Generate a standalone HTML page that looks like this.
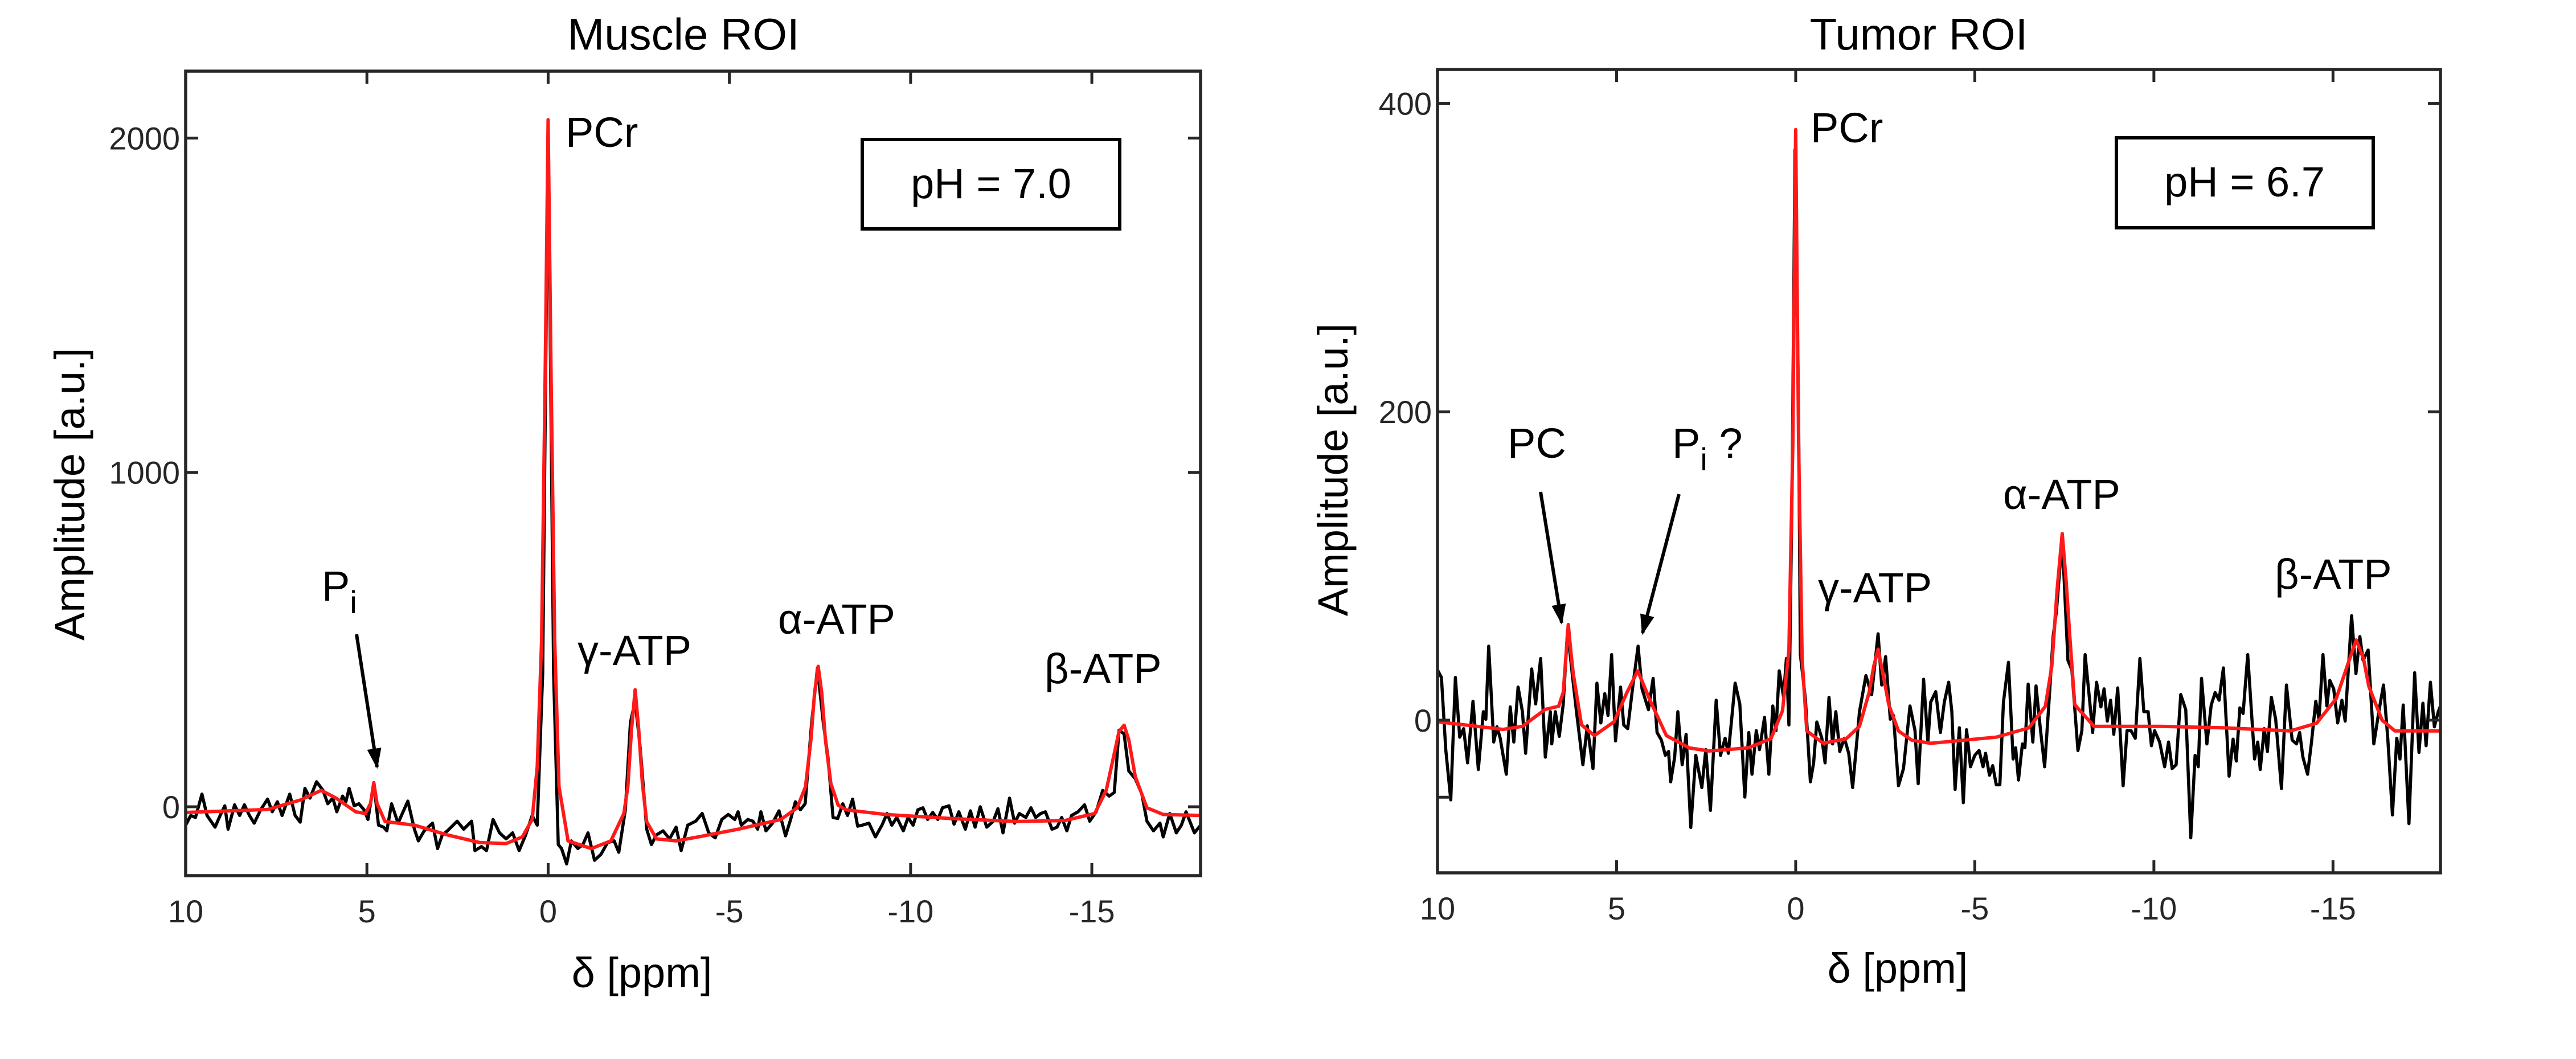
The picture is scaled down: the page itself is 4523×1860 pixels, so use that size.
<!DOCTYPE html>
<html><head><meta charset="utf-8"><style>
html,body{margin:0;padding:0;background:#fff;}
svg{display:block;}
text{font-family:"Liberation Sans",sans-serif;}
.tick{font-size:56px;fill:#262626;}
.lbl{font-size:74px;fill:#000;}
</style></head><body>
<svg id="chart" width="4523" height="1860" viewBox="0 0 4523 1860" xmlns="http://www.w3.org/2000/svg">
<g id="left"></g>
<g id="right"></g>
</svg>
<script>
// ---------- Muscle ROI data ----------
const muscleFitPpm = [10,7.74,6.84,6.26,5.85,5.31,5.04,4.9,4.81,4.72,4.5,3.69,2.78,1.88,1.16,0.71,0.44,0.3,0.18,0.08,0,-0.08,-0.18,-0.3,-0.55,-1.19,-1.73,-2.09,-2.2,-2.3,-2.4,-2.5,-2.6,-2.72,-2.99,-3.53,-4.14,-5.24,-6.42,-6.87,-7.1,-7.25,-7.35,-7.45,-7.55,-7.65,-7.8,-8.0,-8.22,-9.3,-11.11,-12.91,-14.26,-15.08,-15.4,-15.6,-15.75,-15.89,-16.02,-16.2,-16.52,-16.97,-18];
const muscleFitAmp = [-17,-8,20,49,26,-15,-20,10,72,10,-44,-55,-84,-107,-110,-90,-38,120,500,1300,2055,1300,500,60,-102,-125,-102,-20,60,230,350,230,70,-45,-96,-102,-90,-67,-38,-3,60,200,340,420,340,200,70,5,-9,-23,-35,-44,-41,-20,50,150,225,244,200,90,-3,-23,-26];
const muscleDataPpm = [10,9.86,9.73,9.55,9.41,9.19,9.05,8.92,8.83,8.65,8.51,8.38,8.24,8.11,7.93,7.74,7.61,7.47,7.34,7.13,6.98,6.84,6.71,6.57,6.39,6.21,6.08,5.94,5.83,5.67,5.58,5.49,5.35,5.22,5.08,4.97,4.81,4.68,4.54,4.45,4.32,4.14,3.87,3.69,3.58,3.42,3.19,3.05,2.92,2.78,2.51,2.33,2.11,2.02,1.84,1.7,1.52,1.34,1.16,0.98,0.8,0.62,0.44,0.3,0.15,0,-0.15,-0.28,-0.37,-0.51,-0.64,-0.82,-0.96,-1.1,-1.28,-1.46,-1.64,-1.82,-1.95,-2.13,-2.27,-2.4,-2.54,-2.72,-2.85,-2.99,-3.17,-3.35,-3.53,-3.67,-3.85,-4.07,-4.25,-4.43,-4.61,-4.79,-4.97,-5.15,-5.24,-5.33,-5.51,-5.65,-5.78,-5.87,-6.01,-6.19,-6.37,-6.55,-6.69,-6.82,-6.96,-7.09,-7.27,-7.43,-7.59,-7.72,-7.86,-7.99,-8.13,-8.26,-8.4,-8.54,-8.67,-8.85,-9.03,-9.21,-9.35,-9.48,-9.62,-9.8,-9.93,-10.07,-10.2,-10.34,-10.47,-10.61,-10.75,-10.88,-11.06,-11.2,-11.33,-11.51,-11.65,-11.78,-11.92,-12.1,-12.28,-12.41,-12.55,-12.73,-12.87,-13,-13.18,-13.32,-13.45,-13.59,-13.72,-13.9,-14.04,-14.17,-14.31,-14.44,-14.62,-14.8,-14.94,-15.12,-15.3,-15.48,-15.62,-15.75,-15.89,-16.02,-16.2,-16.38,-16.52,-16.7,-16.88,-16.97,-17.15,-17.33,-17.47,-17.6,-17.83,-18];
const muscleDataAmp = [-55,-26,-32,38,-26,-61,-26,3,-67,6,-26,6,-26,-49,-9,23,-15,15,-26,38,-26,-46,55,26,75,49,9,26,-15,32,15,55,3,9,-9,-38,70,-55,-61,-72,9,-49,17,-67,-102,-72,-49,-125,-84,-72,-43,-67,-43,-131,-119,-131,-38,-78,-96,-78,-131,-84,-26,-55,400,2030,400,-113,-125,-171,-102,-125,-113,-78,-160,-142,-107,-102,-136,-9,252,316,177,-67,-113,-84,-72,-96,-61,-131,-55,-43,-20,-78,-93,-38,-23,-38,-15,-55,-38,-43,-67,-15,-72,-49,-12,-87,-38,15,-9,9,252,415,252,148,-32,-35,9,-26,23,-58,-55,-49,-90,-55,-20,-55,-32,-72,-32,-55,-9,-3,-38,-17,-38,-3,3,-52,-15,-67,-12,-61,0,-61,-43,-6,-78,26,-49,-20,-32,-3,-32,-20,-15,-67,-61,-32,-72,-26,-15,6,-43,-15,49,32,43,229,218,107,84,38,-43,-72,-49,-90,-20,-78,-55,-15,-78,-55];
const muscleYTicks = [0,1000,2000];
const muscleYTickLabels = ["0","1000","2000"];
// ---------- Tumor ROI data ----------
const tumorFitPpm = [10,8.17,7.63,6.99,6.62,6.49,6.42,6.35,6.28,6.21,5.98,5.62,5.07,4.71,4.41,4.07,3.61,2.97,2.42,1.33,0.69,0.37,0.19,0.08,0,-0.08,-0.18,-0.31,-0.77,-1.41,-1.78,-2.05,-2.18,-2.3,-2.42,-2.6,-2.87,-3.24,-3.77,-5.6,-6.51,-6.97,-7.15,-7.3,-7.44,-7.55,-7.65,-7.79,-8.33,-10.16,-11.99,-13.81,-14.54,-15.09,-15.41,-15.65,-15.85,-16,-16.37,-16.73,-18];
const tumorFitAmp = [-1,-6,-4,7,9,18,40,62,45,30,-3,-10,-1,18,32,13,-10,-18,-20,-18,-12,6,45,180,383,180,40,-7,-15,-12,-4,18,35,46,32,10,-7,-13,-15,-11,-5,9,35,85,121,90,55,10,-4,-4,-5,-7,-2,14,36,52,40,22,0,-7,-7];
const tumorDataPpm = [10,9.89,9.77,9.63,9.5,9.38,9.27,9.16,9.01,8.86,8.72,8.65,8.57,8.43,8.34,8.25,8.08,7.97,7.87,7.75,7.63,7.54,7.37,7.26,7.12,6.99,6.85,6.81,6.71,6.6,6.49,6.37,6.24,6.12,5.94,5.82,5.66,5.55,5.44,5.33,5.24,5.14,5.03,4.89,4.8,4.69,4.54,4.4,4.29,4.11,3.98,3.87,3.75,3.64,3.55,3.49,3.38,3.29,3.17,3.06,2.93,2.79,2.62,2.51,2.38,2.22,2.1,1.97,1.88,1.69,1.56,1.42,1.31,1.22,1.1,1.01,0.87,0.75,0.64,0.55,0.46,0.34,0.26,0.19,0.1,0.02,-0.08,-0.13,-0.27,-0.41,-0.5,-0.59,-0.73,-0.82,-0.93,-1.03,-1.12,-1.23,-1.36,-1.48,-1.59,-1.78,-1.96,-2.12,-2.3,-2.4,-2.51,-2.64,-2.73,-2.87,-3.01,-3.19,-3.33,-3.42,-3.57,-3.69,-3.77,-3.91,-4.04,-4.15,-4.27,-4.36,-4.45,-4.57,-4.68,-4.77,-4.88,-5,-5.12,-5.23,-5.3,-5.41,-5.5,-5.6,-5.7,-5.8,-5.94,-6.07,-6.14,-6.22,-6.33,-6.4,-6.49,-6.62,-6.71,-6.83,-6.95,-7.06,-7.19,-7.28,-7.44,-7.6,-7.71,-7.88,-7.99,-8.08,-8.2,-8.29,-8.4,-8.52,-8.61,-8.7,-8.79,-8.88,-8.99,-9.14,-9.25,-9.36,-9.48,-9.61,-9.72,-9.84,-9.93,-10.02,-10.16,-10.3,-10.41,-10.51,-10.62,-10.75,-10.89,-11.03,-11.15,-11.24,-11.33,-11.48,-11.6,-11.71,-11.82,-11.94,-12.1,-12.21,-12.3,-12.4,-12.49,-12.62,-12.81,-12.9,-12.97,-13.08,-13.17,-13.28,-13.4,-13.56,-13.7,-13.86,-13.98,-14.07,-14.16,-14.29,-14.4,-14.52,-14.61,-14.72,-14.83,-14.91,-15.02,-15.13,-15.25,-15.34,-15.52,-15.64,-15.75,-15.84,-15.98,-16.14,-16.28,-16.41,-16.53,-16.66,-16.78,-16.87,-16.96,-17.12,-17.28,-17.4,-17.51,-17.6,-17.72,-17.83,-17.94,-18];
const tumorDataAmp = [32.6,27.7,-19.1,-51.7,27.7,-11.1,-5.5,-27.7,12.3,-32,5.5,0.6,48,-14.2,-4.3,-11.7,-35.1,8.6,-14.2,21.5,5.5,-21.5,33.2,10.5,40,-24,5.5,-15.4,5.5,-10.5,10.5,58.5,30.2,5.5,-28.9,-3.7,-31.4,24,-1.8,17.2,3.1,42.5,-13.5,21.5,-3.1,-5.5,23.4,48,20.3,6.8,27.1,-8,-12.9,-22.8,-20.3,-40,-24,5.5,-28.9,-9.2,-69.6,-22.8,-43.7,-19.1,-58.5,12.9,-22.8,-11.7,-21.5,24,10.5,-49.9,-8,-35.1,-6.8,-19.1,1.8,-35.1,9.2,-6.8,32,15.4,40,-3.1,150,370,200,42.5,14.1,-40,-27.7,-1.2,-11.7,-27.7,14.8,-15.4,5.5,-20.3,-11.7,-21.5,-43.7,5.5,28.9,16.6,56,22.8,41.2,0.6,3.1,-42.5,-31.4,9.2,-6.8,-41.2,26.5,-14.2,11.7,18.5,-8,11.7,24.6,5.5,-44.9,-4.9,-53.5,-6.2,-30.2,-22.8,-19.7,-30.2,-21.5,-35.7,-29.5,-41.9,-41.9,11.7,37.5,-25.2,-17.9,-38.8,-15.4,-17.9,23.4,-14.2,22.2,-5.5,-30.2,8,54.8,70.8,118,38.8,32.6,-19.7,-6.8,42.5,14.1,-8,24.6,8.6,20.3,-0.6,12.9,-9.2,20.9,-42.5,-6.8,-6.8,-11.7,40,5.5,5.5,-16.6,-6.8,-14.2,-30.2,-14.2,-31.4,-28.9,16.6,6.8,-76.3,-22.8,-30.2,27.1,-15.4,9.8,17.9,12.9,33.9,-36.3,-12.3,-26.5,8,4.3,42.5,-25.2,-14.2,-32,-5.5,-20.3,14.8,0.6,-44.3,22.8,-12.9,-15.4,-8,-24,-35.1,-14.2,12.3,0.6,42.5,9.2,25.8,20.3,-1.8,12.9,-0.6,67.7,30.2,54.2,38.8,45.5,-15.4,5.5,22.8,-11.7,-61.5,-11.7,-25.2,9.8,-67.1,30.8,-20.9,11,-16.6,24.6,-4.3,5.5,9.2];
const tumorYTicks = [0,200,400];
const tumorYTickLabels = ["0","200","400"];
const xTicks = [10,5,0,-5,-10,-15];
const xTickLabels = ["10","5","0","-5","-10","-15"];

const NS = "http://www.w3.org/2000/svg";
function mk(parent, tag, attrs, txt){
  const e = document.createElementNS(NS, tag);
  for (const k in attrs) e.setAttribute(k, attrs[k]);
  if (txt !== undefined) e.textContent = txt;
  parent.appendChild(e);
  return e;
}
function drawPanel(g, cfg){
  const sx = v => cfg.x0 + (cfg.xmax - v) / (cfg.xmax - cfg.xmin) * (cfg.x1 - cfg.x0);
  const sy = v => cfg.y1 - (v - cfg.ymin) / (cfg.ymax - cfg.ymin) * (cfg.y1 - cfg.y0);
  const clip = mk(g, "clipPath", {id: cfg.id + "-clip"});
  mk(clip, "rect", {x: cfg.x0, y: cfg.y0, width: cfg.x1 - cfg.x0, height: cfg.y1 - cfg.y0});
  let d = "";
  cfg.dataPpm.forEach((p, i) => { d += (i ? "L" : "M") + sx(p).toFixed(1) + "," + sy(cfg.dataAmp[i]).toFixed(1); });
  const dl = mk(g, "path", {d: d, fill: "none", stroke: "#000", "stroke-width": 5.5, "stroke-linejoin": "round", "clip-path": "url(#" + cfg.id + "-clip)"});
  
  
  d = "";
  cfg.fitPpm.forEach((p, i) => { d += (i ? "L" : "M") + sx(p).toFixed(1) + "," + sy(cfg.fitAmp[i]).toFixed(1); });
  const fl = mk(g, "path", {d: d, fill: "none", stroke: "#ff1a1a", "stroke-width": 6, "stroke-linejoin": "round", "clip-path": "url(#" + cfg.id + "-clip)"});
  
  
  const box = mk(g, "rect", {x: cfg.x0, y: cfg.y0, width: cfg.x1 - cfg.x0, height: cfg.y1 - cfg.y0, fill: "none", stroke: "#262626", "stroke-width": 5.5});
  
  
  xTicks.forEach((t, i) => {
    const x = sx(t);
    mk(g, "line", {x1: x, x2: x, y1: cfg.y1, y2: cfg.y1 - 22, stroke: "#262626", "stroke-width": 5});
    mk(g, "line", {x1: x, x2: x, y1: cfg.y0, y2: cfg.y0 + 22, stroke: "#262626", "stroke-width": 5});
    const tl = mk(g, "text", {x: x, y: cfg.xLabelY, "text-anchor": "middle", class: "tick"}, xTickLabels[i]);
    
    
  });
  cfg.yTicks.forEach((t, i) => {
    const y = sy(t);
    mk(g, "line", {x1: cfg.x0, x2: cfg.x0 + 22, y1: y, y2: y, stroke: "#262626", "stroke-width": 5});
    mk(g, "line", {x1: cfg.x1, x2: cfg.x1 - 22, y1: y, y2: y, stroke: "#262626", "stroke-width": 5});
    const tl = mk(g, "text", {x: cfg.x0 - 10, y: y + 20, "text-anchor": "end", class: "tick"}, cfg.yTickLabels[i]);
    
    
  });
  (cfg.extraTicks || []).forEach(t => {
    const y = sy(t);
    mk(g, "line", {x1: cfg.x0, x2: cfg.x0 + 22, y1: y, y2: y, stroke: "#262626", "stroke-width": 5});
  });
}
drawPanel(document.getElementById("left"), {id: "m", x0: 326, x1: 2108, y0: 125, y1: 1538, xmax: 10, xmin: -18, ymin: -206, ymax: 2200,
  dataPpm: muscleDataPpm, dataAmp: muscleDataAmp, fitPpm: muscleFitPpm, fitAmp: muscleFitAmp,
  yTicks: muscleYTicks, yTickLabels: muscleYTickLabels, xLabelY: 1620});
drawPanel(document.getElementById("right"), {id: "t", x0: 2524, x1: 4285, y0: 122, y1: 1533, xmax: 10, xmin: -18, ymin: -99, ymax: 422,
  dataPpm: tumorDataPpm, dataAmp: tumorDataAmp, fitPpm: tumorFitPpm, fitAmp: tumorFitAmp,
  yTicks: tumorYTicks, yTickLabels: tumorYTickLabels, xLabelY: 1615, extraTicks: [-50]});
</script>
<svg style="position:absolute;left:0;top:0" width="4523" height="1860" viewBox="0 0 4523 1860" xmlns="http://www.w3.org/2000/svg">
<defs><marker id="ah" viewBox="0 0 10 10" refX="9" refY="5" markerWidth="6" markerHeight="6" orient="auto-start-reverse" markerUnits="strokeWidth"><path d="M0,1.5 L10,5 L0,8.5 z" fill="#000"/></marker></defs>
<text x="1200" y="87" text-anchor="middle" style="font-size:78px">Muscle ROI</text>
<text transform="translate(148,868) rotate(-90)" text-anchor="middle" class="lbl">Amplitude [a.u.]</text>
<text x="1127" y="1734" text-anchor="middle" class="lbl">δ [ppm]</text>
<text x="993" y="258" class="lbl">PCr</text>
<g><rect x="1514" y="245" width="452" height="157" fill="#fff" stroke="#000" stroke-width="6"/><text x="1740" y="348" text-anchor="middle" class="lbl">pH = 7.0</text></g>
<text x="565" y="1055" class="lbl">P<tspan dy="22" style="font-size:56px">i</tspan></text>
<line x1="626" y1="1114" x2="662" y2="1347" stroke="#000" stroke-width="6" marker-end="url(#ah)"/>
<text x="1014" y="1168" class="lbl">γ-ATP</text>
<text x="1366" y="1113" class="lbl">α-ATP</text>
<text x="1834" y="1200" class="lbl">β-ATP</text>
<text x="3369" y="87" text-anchor="middle" style="font-size:78px">Tumor ROI</text>
<text transform="translate(2366,825) rotate(-90)" text-anchor="middle" class="lbl">Amplitude [a.u.]</text>
<text x="3332" y="1726" text-anchor="middle" class="lbl">δ [ppm]</text>
<text x="3179" y="250" class="lbl">PCr</text>
<g><rect x="3716" y="242" width="451" height="158" fill="#fff" stroke="#000" stroke-width="6"/><text x="3941" y="345" text-anchor="middle" class="lbl">pH = 6.7</text></g>
<text x="2647" y="804" class="lbl">PC</text>
<text x="2936" y="804" class="lbl">P<tspan dy="22" style="font-size:56px">i</tspan><tspan dy="-22"> ?</tspan></text>
<line x1="2705" y1="864" x2="2742" y2="1094" stroke="#000" stroke-width="6" marker-end="url(#ah)"/>
<line x1="2948" y1="868" x2="2884" y2="1112" stroke="#000" stroke-width="6" marker-end="url(#ah)"/>
<text x="3192" y="1058" class="lbl">γ-ATP</text>
<text x="3517" y="894" class="lbl">α-ATP</text>
<text x="3994" y="1034" class="lbl">β-ATP</text>
</svg>
</body></html>
